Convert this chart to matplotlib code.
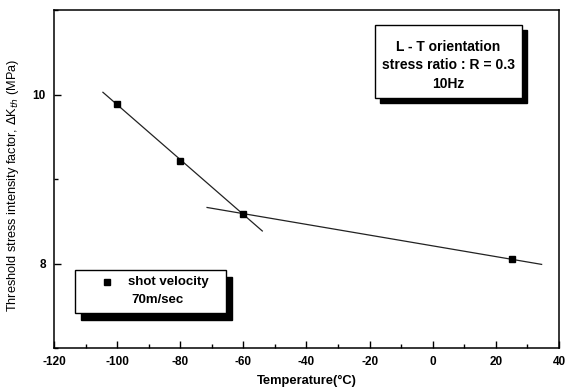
import numpy as np
import matplotlib
matplotlib.use("Agg")
import matplotlib.pyplot as plt
from matplotlib.patches import Rectangle
from matplotlib.ticker import MultipleLocator

# data
temperature = [-100, -80, -60, 25]
dk_th = [9.89, 9.21, 8.59, 8.05]

# two fitted lines: which points go in each, and how far each line runs
fit1_idx = [0, 1, 2]
fit1_range = [-104.5, -54]
fit2_idx = [2, 3]
fit2_range = [-71.5, 34.5]

info_lines = ["L - T orientation", "stress ratio : R = 0.3", "10Hz"]
legend_lines = ["shot velocity", "70m/sec"]

plt.rcParams['font.family'] = ['Liberation Sans', 'DejaVu Sans']
plt.rcParams['axes.unicode_minus'] = False

fig = plt.figure(figsize=(5.66, 3.92), dpi=100)
ax = fig.add_axes([0.0954, 0.1122, 0.8922, 0.8623])

t = np.array(temperature)
k = np.array(dk_th)
for idx, rng in [(fit1_idx, fit1_range), (fit2_idx, fit2_range)]:
    p = np.polyfit(t[idx], k[idx], 1)
    xs = np.array(rng)
    ax.plot(xs, np.polyval(p, xs), color='#222222', lw=0.9)

ax.plot(t, k, 's', color='black', ms=5, zorder=3)

ax.set_xlim(-120, 40)
ax.set_ylim(7, 11)
ax.xaxis.set_major_locator(MultipleLocator(20))
ax.xaxis.set_minor_locator(MultipleLocator(10))
ax.set_yticks([8, 10])
ax.yaxis.set_minor_locator(MultipleLocator(1))
ax.tick_params(which='both', direction='in', labelsize=8.5, width=1, pad=6)
ax.tick_params(which='major', length=5)
ax.tick_params(which='minor', length=3)
for lab in ax.get_xticklabels() + ax.get_yticklabels():
    lab.set_fontweight('bold')
for s in ax.spines.values():
    s.set_linewidth(1.1)

ax.set_xlabel("Temperature(°C)", fontsize=9.3, fontweight='bold', labelpad=5)
ax.set_ylabel(r"Threshold stress intensity factor, $\Delta$K$_{th}$ (MPa)", fontsize=9.2)
ax.yaxis.set_label_coords(-0.066, 0.481)

# info box with black shadow
def shadow_box(x0, y0, x1, y1, dx, dy):
    ax.add_patch(Rectangle((x0 + dx, y0 - dy), x1 - x0, y1 - y0, transform=ax.transAxes,
                           facecolor='black', edgecolor='black', zorder=4))
    ax.add_patch(Rectangle((x0, y0), x1 - x0, y1 - y0, transform=ax.transAxes,
                           facecolor='white', edgecolor='black', lw=1, zorder=5))

shadow_box(0.636, 0.740, 0.927, 0.956, 0.010, 0.015)
for i, line in enumerate(info_lines):
    ax.text(0.781, 0.890 - i * 0.054, line, transform=ax.transAxes, ha='center', va='center',
            fontsize=10, fontweight='bold', zorder=6)

shadow_box(0.042, 0.104, 0.341, 0.231, 0.012, 0.020)
ax.plot([0.1046], [0.194], 's', color='black', ms=5, transform=ax.transAxes, zorder=6)
ax.text(0.147, 0.194, legend_lines[0], transform=ax.transAxes, ha='left', va='center',
        fontsize=9.5, fontweight='bold', zorder=6)
ax.text(0.154, 0.142, legend_lines[1], transform=ax.transAxes, ha='left', va='center',
        fontsize=9.5, fontweight='bold', zorder=6)

fig.savefig("out.png", dpi=100)
